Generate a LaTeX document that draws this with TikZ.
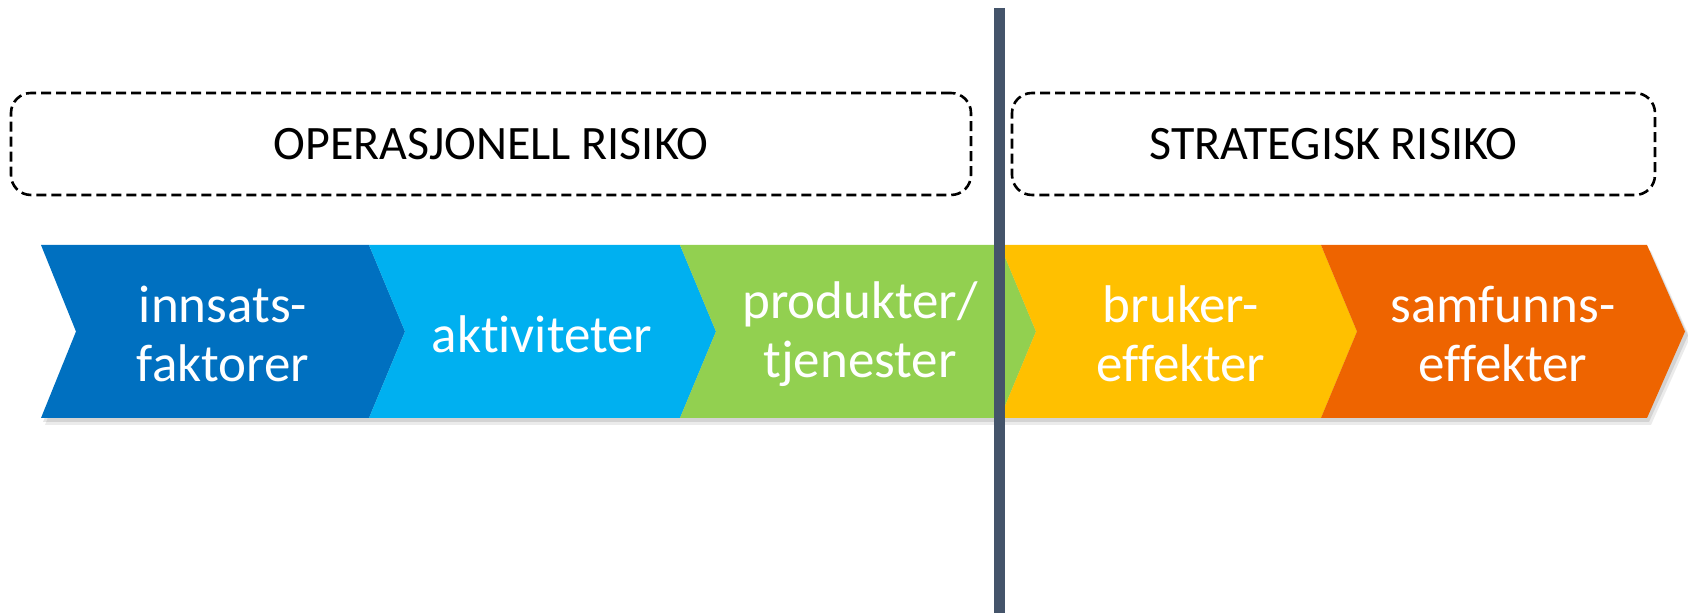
\documentclass[tikz,border=0pt]{standalone}
\usepackage{fontspec}
\setmainfont{Carlito}[RawFeature={-liga;-clig;-dlig;-calt}]
\usepackage{tikz}

\definecolor{innblue}{RGB}{0,112,192}
\definecolor{aktblue}{RGB}{0,176,240}
\definecolor{prodgreen}{RGB}{146,208,80}
\definecolor{brukyellow}{RGB}{255,192,0}
\definecolor{samforange}{RGB}{238,100,0}
\definecolor{skille}{RGB}{68,84,106}

\begin{document}
\begin{tikzpicture}[x=0.5pt,y=0.5pt]
            \tikzstyle{riskbox}=[draw=black, dash pattern=on 5pt off 2.5pt, line width=1.3pt, rounded corners=10pt, font=\fontsize{24}{28}\selectfont]
            \tikzstyle{steptext}=[text=white, align=center, font=\fontsize{26.5}{29.5}\selectfont]
            \useasboundingbox (0,0) rectangle (1688,-613);
            % risikoboksene
            \node [riskbox, minimum width=480pt, minimum height=51pt] (oprisk) at (491,-144) {OPERASJONELL RISIKO};
            \node [riskbox, minimum width=321.5pt, minimum height=51pt] (strisk) at (1333.5,-144) {STRATEGISK RISIKO};
            % skygge under pilen
            \fill [black, opacity=0.08] (45,-251) -- (1651,-251) -- (1690,-337.5) -- (1651,-425) -- (45,-425) -- (80,-337.5) -- cycle;
            \fill [black, opacity=0.10] (43,-249) -- (1649,-249) -- (1688,-335.5) -- (1649,-422) -- (43,-422) -- (78,-335.5) -- cycle;
            % pilene
            \fill [innblue] (41,-245) -- (369,-245) -- (405,-331.5) -- (369,-418) -- (41,-418) -- (76,-331.5) -- cycle;
            \fill [aktblue] (369,-245) -- (680,-245) -- (716,-331.5) -- (680,-418) -- (369,-418) -- (405,-331.5) -- cycle;
            \fill [prodgreen] (680,-245) -- (1000,-245) -- (1036,-331.5) -- (1000,-418) -- (680,-418) -- (716,-331.5) -- cycle;
            \fill [brukyellow] (1000,-245) -- (1321,-245) -- (1357,-331.5) -- (1321,-418) -- (1000,-418) -- (1036,-331.5) -- cycle;
            \fill [samforange] (1321,-245) -- (1647,-245) -- (1685,-331.5) -- (1647,-418) -- (1321,-418) -- (1357,-331.5) -- cycle;
            \node [steptext] (innsats) at (223,-334) {innsats-\\faktorer};
            \node [steptext] (aktiv) at (542,-334) {aktiviteter};
            \node [steptext] (produkt) at (860,-334) {produkter/\\tjenester};
            \node [steptext] (bruker) at (1181,-334) {bruker-\\effekter};
            \node [steptext] (samfunn) at (1503,-334) {samfunns-\\effekter};
            % skillelinje
            \coordinate (skilletopp) at (999,-8);
            \coordinate (skillebunn) at (999,-613);
            \draw [skille, line width=5.5pt] (skilletopp) -- (skillebunn);
        \end{tikzpicture}
\end{document}
